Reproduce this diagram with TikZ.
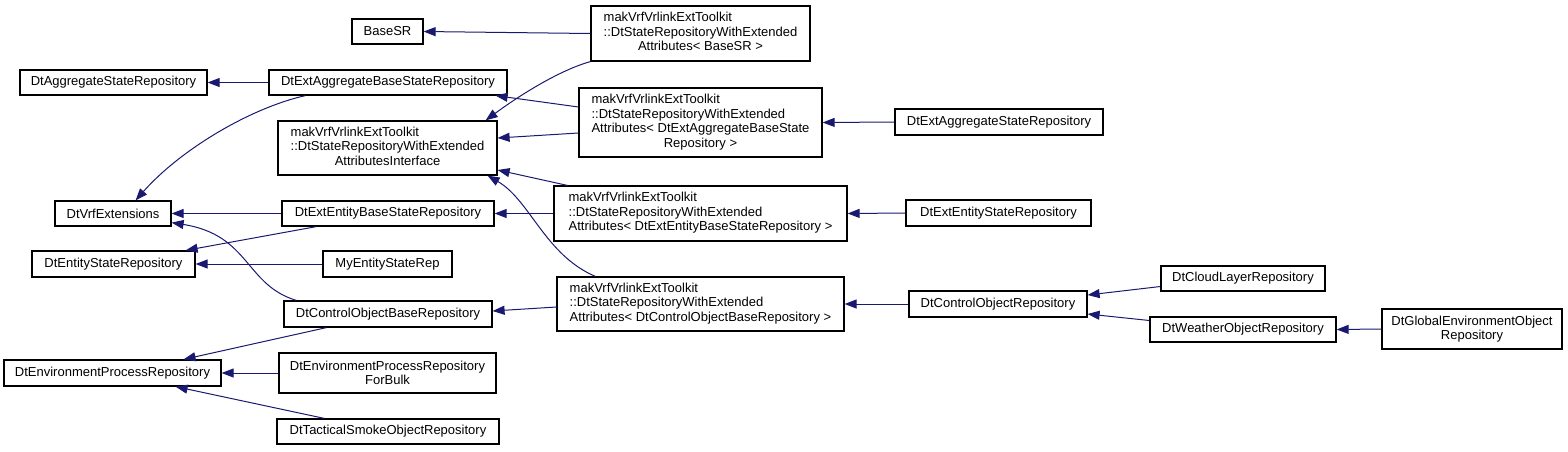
\documentclass[tikz,border=0pt]{standalone}
\usepackage{fontspec}
\setmainfont{Liberation Sans}
\usetikzlibrary{arrows.meta,calc}
\definecolor{edgeblue}{HTML}{191970}
% left-aligned lines, a centred last line where doxygen centres it
\newcommand{\cls}[1]{\begin{tabular}{@{}l@{}}#1\end{tabular}}
\newcommand{\midln}[1]{\multicolumn{1}{@{}c@{}}{#1}}

\begin{document}
\begin{tikzpicture}[x=1pt,y=-1pt,
        box/.style={draw=black, line width=1.2pt, fill=white, inner sep=0pt,
                    align=center, font=\fontsize{13}{14.5}\selectfont},
        inh/.style={edgeblue, line width=1pt, -{Triangle[length=12pt,width=9pt]}}]
    \useasboundingbox (0,0) rectangle (1568,451);

    % left column
    \node[box, minimum width=187, minimum height=25] (aggState) at (113.5,82.5) {DtAggregateStateRepository};
    \node[box, minimum width=116, minimum height=25] (vrfExt) at (113,213.5) {DtVrfExtensions};
    \node[box, minimum width=163, minimum height=26] (entState) at (113.5,264) {DtEntityStateRepository};
    \node[box, minimum width=217, minimum height=26] (envProc) at (112.5,373) {DtEnvironmentProcessRepository};

    % second column
    \node[box, minimum width=71, minimum height=25] (baseSR) at (387.5,31.5) {BaseSR};
    \node[box, minimum width=238, minimum height=25] (extAggBase) at (388,82.5) {DtExtAggregateBaseStateRepository};
    \node[box, minimum width=219, minimum height=54] (iface) at (387.5,148)
        {\cls{makVrfVrlinkExtToolkit\\::DtStateRepositoryWithExtended\\\midln{AttributesInterface}}};
    \node[box, minimum width=212, minimum height=25] (extEntBase) at (388,213.5) {DtExtEntityBaseStateRepository};
    \node[box, minimum width=129, minimum height=26] (myEnt) at (387.5,264) {MyEntityStateRep};
    \node[box, minimum width=208, minimum height=26] (ctrlBase) at (388,314) {DtControlObjectBaseRepository};
    \node[box, minimum width=217, minimum height=40] (forBulk) at (387.5,373) {DtEnvironmentProcessRepository\\ForBulk};
    \node[box, minimum width=222, minimum height=25] (smoke) at (388,431.5) {DtTacticalSmokeObjectRepository};

    % templates
    \node[box, minimum width=219, minimum height=55] (tplBase) at (700.5,33.5)
        {\cls{makVrfVrlinkExtToolkit\\::DtStateRepositoryWithExtended\\\midln{Attributes< BaseSR >}}};
    \node[box, minimum width=243, minimum height=69] (tplAgg) at (700.5,122.5)
        {\cls{makVrfVrlinkExtToolkit\\::DtStateRepositoryWithExtended\\Attributes< DtExtAggregateBaseState\\\midln{Repository >}}};
    \node[box, minimum width=293, minimum height=55] (tplEnt) at (700.5,213.5)
        {\cls{makVrfVrlinkExtToolkit\\::DtStateRepositoryWithExtended\\Attributes< DtExtEntityBaseStateRepository >}};
    \node[box, minimum width=287, minimum height=54] (tplCtrl) at (700.5,304)
        {\cls{makVrfVrlinkExtToolkit\\::DtStateRepositoryWithExtended\\Attributes< DtControlObjectBaseRepository >}};

    % right side
    \node[box, minimum width=208, minimum height=26] (extAggState) at (999,122) {DtExtAggregateStateRepository};
    \node[box, minimum width=185, minimum height=26] (extEntState) at (998.5,213) {DtExtEntityStateRepository};
    \node[box, minimum width=178, minimum height=26] (ctrlObj) at (998,304) {DtControlObjectRepository};
    \node[box, minimum width=164, minimum height=25] (cloud) at (1243,278.5) {DtCloudLayerRepository};
    \node[box, minimum width=186, minimum height=25] (weather) at (1243,329.5) {DtWeatherObjectRepository};
    \node[box, minimum width=180, minimum height=40] (globalEnv) at (1472,329) {DtGlobalEnvironmentObject\\Repository};

    % inheritance edges
    \draw[inh] (extAggBase.west) -- (aggState.east);
    \draw[inh] ($(extAggBase.south west)+(37,0)$) .. controls (250,108) and (180,150) .. ($(vrfExt.north east)+(-36,0)$);
    \draw[inh] (tplBase.west) -- (baseSR.east);
    \draw[inh] (tplBase.south west) .. controls (560,70) and (520,95) .. ($(iface.north east)+(-12,0)$);
    \draw[inh] ($(tplAgg.west)+(0,-15.5)$) -- ($(extAggBase.south east)+(-12,0)$);
    \draw[inh] ($(tplAgg.west)+(0,10.5)$) -- ($(iface.east)+(0,-10)$);
    \draw[inh] (extAggState.west) -- (tplAgg.east);
    \draw[inh] ($(tplEnt.north west)+(14,0)$) -- ($(iface.east)+(0,22)$);
    \draw[inh] (tplEnt.west) -- (extEntBase.east);
    \draw[inh] (extEntState.west) -- (tplEnt.east);
    \draw[inh] ($(tplCtrl.north west)+(39,0)$) .. controls (545,255) and (530,200) .. ($(iface.south east)+(-10,0)$);
    \draw[inh] ($(tplCtrl.west)+(0,3)$) -- ($(ctrlBase.east)+(0,-3)$);
    \draw[inh] (ctrlObj.west) -- (tplCtrl.east);
    \draw[inh] ($(cloud.west)+(0,8)$) -- ($(ctrlObj.east)+(0,-9)$);
    \draw[inh] ($(weather.west)+(0,-9)$) -- ($(ctrlObj.east)+(0,10)$);
    \draw[inh] (globalEnv.west) -- (weather.east);
    \draw[inh] (extEntBase.west) -- (vrfExt.east);
    \draw[inh] ($(extEntBase.south west)+(35,0)$) -- ($(entState.north east)+(-10,0)$);
    \draw[inh] (myEnt.west) -- (entState.east);
    \draw[inh] ($(ctrlBase.north west)+(13,0)$) .. controls (245,285) and (250,235) .. ($(vrfExt.south east)+(0,-4)$);
    \draw[inh] ($(ctrlBase.south west)+(43,0)$) -- ($(envProc.north east)+(-38,0)$);
    \draw[inh] (forBulk.west) -- (envProc.east);
    \draw[inh] ($(smoke.north west)+(48,0)$) -- ($(envProc.south east)+(-46,0)$);
\end{tikzpicture}
\end{document}
